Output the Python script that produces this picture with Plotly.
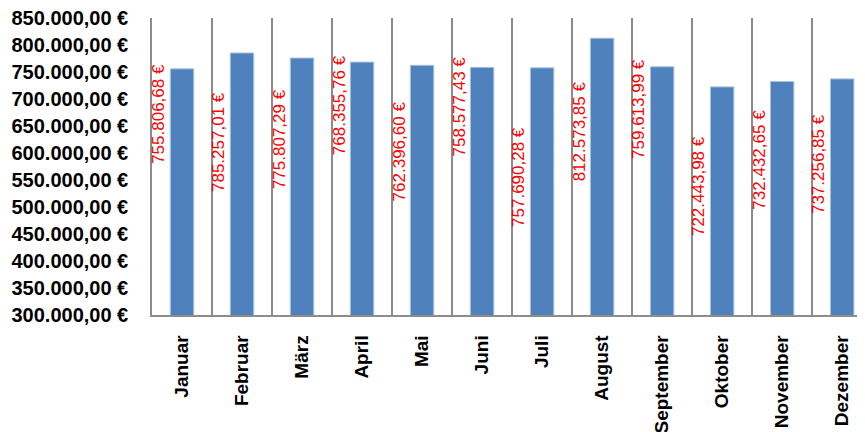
import plotly.graph_objects as go

months = ["Januar", "Februar", "März", "April", "Mai", "Juni", "Juli",
          "August", "September", "Oktober", "November", "Dezember"]
values = [755806.68, 785257.01, 775807.29, 768355.76, 762396.60, 758577.43,
          757690.28, 812573.85, 759613.99, 722443.98, 732432.65, 737256.85]
y_ticks = list(range(300000, 850001, 50000))


def euro(v, dec=2):
    # German number format: 1.234,56 €
    s = f"{v:,.{dec}f}".replace(",", "X").replace(".", ",").replace("X", ".")
    return s + " €"


# label offsets (px) relative to bar top, labels were placed by hand in the original
label_shift = [7, -37, -29, 9, -34, 13, -57, -41, 10, -47, -26, -33]

fig = go.Figure(go.Bar(
    x=months, y=values, width=0.39,
    marker=dict(color="#4F81BD", line=dict(color="#A9C2E0", width=1)),
))

for m, v, s in zip(months, values, label_shift):
    fig.add_annotation(x=m, y=v, text=euro(v), showarrow=False, textangle=-90,
                       xshift=-23, yshift=s, yanchor="top", xanchor="center",
                       font=dict(family="Liberation Sans, Arial", size=17, color="#FF0000"))

# the page body adds an 8px offset, so margins are reduced by that much
fig.update_layout(
    width=865, height=432,
    margin=dict(l=144, r=8, t=10, b=125),
    plot_bgcolor="white", paper_bgcolor="white",
    showlegend=False,
)
fig.update_xaxes(
    type="category", range=[-0.5, 11.38], tickson="boundaries", automargin=False,
    showgrid=True, gridcolor="#8C8C8C", gridwidth=1.5,
    showline=True, linecolor="#8C8C8C", linewidth=1.5,
    ticks="", tickangle=-90, ticklabelstandoff=11,
    tickfont=dict(family="Liberation Sans, Arial", size=19, color="black", weight="bold"),
)
fig.update_yaxes(
    range=[300000, 850000], tickvals=y_ticks, ticktext=[euro(v) for v in y_ticks],
    automargin=False, showgrid=False, zeroline=False, ticklabeloverflow="allow",
    showline=True, linecolor="#8C8C8C", linewidth=1.5,
    ticks="", ticklabelstandoff=18,
    tickfont=dict(family="Liberation Sans, Arial", size=20, color="black", weight="bold"),
)

fig.write_html("out.html")
